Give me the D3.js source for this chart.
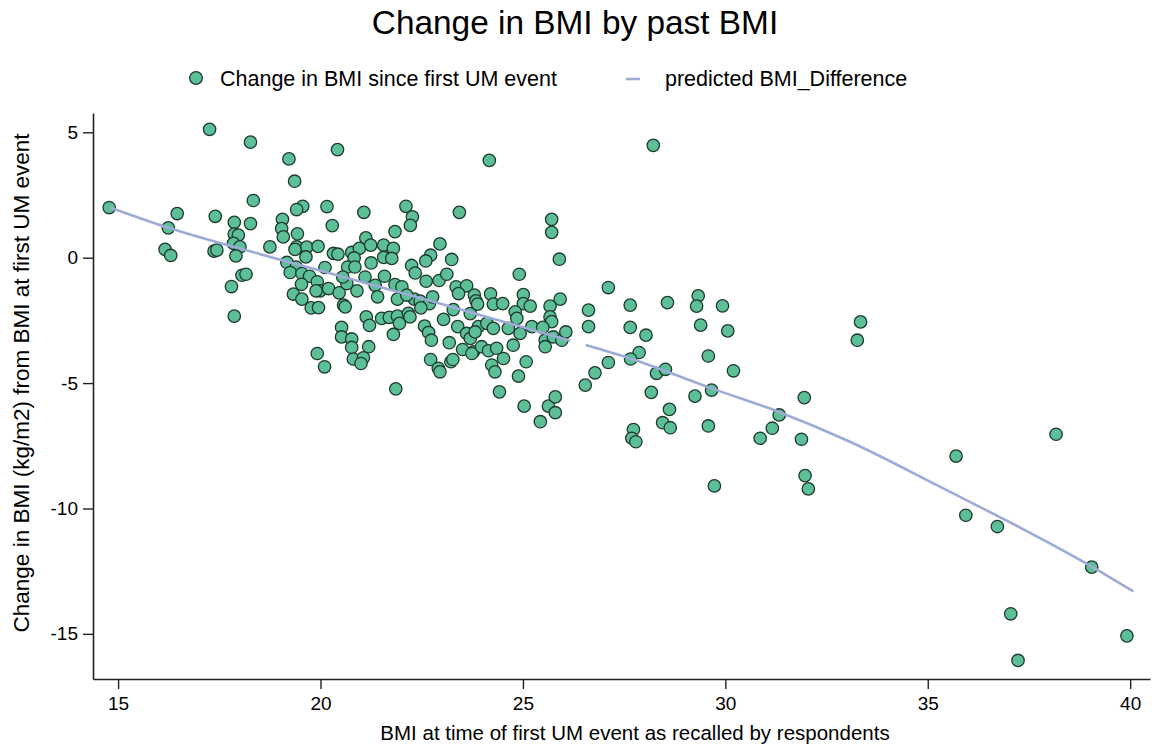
<!DOCTYPE html>
<html>
<head>
<meta charset="utf-8">
<script src="https://cdn.jsdelivr.net/npm/d3@7"></script>
<style>
  html, body { margin: 0; padding: 0; background: #ffffff; }
  svg { display: block; }
  text { font-family: "Liberation Sans", Arial, Helvetica, sans-serif; fill: #000; }
</style>
</head>
<body>
<svg id="chart" width="1153" height="744"></svg>
<script>
// BMI when the first UM event happened, as recalled
const pastBMI = [
  14.78, 16.46, 16.24, 16.16, 16.30, 17.26, 18.27, 18.34, 17.40, 17.87,
  18.27, 17.87, 17.97, 17.85, 18.01, 17.37, 17.44, 17.91, 18.06, 18.16,
  17.80, 17.87, 18.75, 20.42, 19.22, 19.36, 19.56, 19.41, 20.16, 21.07,
  22.11, 22.27, 22.22, 23.43, 19.06, 19.04, 19.08, 20.29, 19.43, 21.84,
  21.12, 22.95, 19.41, 19.66, 19.94, 20.32, 20.43, 20.77, 20.96, 21.24,
  21.56, 21.80, 20.83, 21.56, 21.76, 22.72, 22.60, 23.24, 19.64, 19.17,
  19.40, 20.11, 20.67, 20.85, 21.25, 22.25, 22.34, 19.25, 19.54, 19.73,
  21.10, 21.58, 22.61, 22.93, 23.12, 23.35, 23.61, 23.80, 23.41, 19.53,
  19.92, 19.99, 20.20, 19.89, 20.46, 20.65, 20.90, 21.35, 21.84, 22.01,
  21.90, 22.32, 22.46, 22.69, 22.77, 21.41, 19.33, 19.54, 19.77, 19.95,
  20.57, 20.61, 21.13, 21.21, 21.51, 21.70, 21.90, 21.95, 22.17, 22.21,
  22.48, 22.57, 22.67, 22.74, 23.04, 23.18, 23.39, 23.61, 23.51, 23.78,
  20.52, 20.52, 20.77, 20.77, 21.19, 20.81, 21.06, 21.00, 21.80, 19.92,
  20.10, 21.86, 22.72, 22.91, 22.95, 23.22, 23.27, 23.74, 20.55, 19.37,
  22.13, 25.71, 25.71, 25.90, 24.91, 23.84, 24.20, 24.27, 24.50, 25.01,
  25.01, 25.18, 25.92, 25.67, 26.62, 23.28, 23.70, 23.88, 24.81, 24.85,
  25.67, 25.71, 26.62, 23.70, 23.90, 24.11, 24.27, 23.82, 24.64, 24.93,
  25.22, 25.49, 25.55, 25.55, 25.75, 25.96, 26.06, 24.76, 23.98, 24.15,
  24.35, 24.52, 24.23, 24.31, 25.08, 24.89, 24.42, 25.03, 25.63, 25.80,
  25.80, 25.43, 26.54, 27.11, 27.65, 27.65, 28.04, 28.57, 29.33, 29.29,
  29.93, 29.39, 30.06, 27.87, 27.66, 27.11, 26.78, 28.30, 28.52, 29.58,
  30.20, 29.66, 29.25, 28.17, 28.62, 28.45, 28.64, 27.73, 27.69, 27.79,
  29.58, 31.33, 31.16, 30.86, 29.73, 31.95, 31.88, 31.97, 32.05, 33.34,
  33.26, 35.70, 38.17, 35.94, 36.72, 39.05, 37.05, 37.23, 39.92, 28.22,
  24.17
];

// Change in BMI since the first UM event (kg/m2)
const bmiChange = [
   2.00,  1.76,  1.19,  0.33,  0.09,  5.12,  4.61,  2.28,  1.65,  1.41,
   1.36,  0.94,  0.90,  0.57,  0.43,  0.26,  0.30,  0.07, -0.70, -0.66,
  -1.15, -2.33,  0.43,  4.31,  3.94,  3.05,  2.05,  1.92,  2.04,  1.81,
   2.05,  1.63,  1.29,  1.81,  1.53,  1.16,  0.83,  1.28,  0.95,  1.04,
   0.79,  0.55,  0.43,  0.42,  0.45,  0.17,  0.14,  0.21,  0.37,  0.50,
   0.50,  0.37, -0.01,  0.01, -0.03,  0.10, -0.13, -0.07,  0.03, -0.19,
  -0.37, -0.39, -0.37, -0.37, -0.21, -0.31, -0.61, -0.59, -0.63, -0.74,
  -0.77, -0.74, -0.94, -0.91, -0.66, -1.16, -1.12, -1.49, -1.43, -1.06,
  -0.96, -1.32, -1.23, -1.32, -1.40, -1.03, -1.32, -1.10, -1.07, -1.16,
  -1.65, -1.65, -1.73, -1.83, -1.56, -1.56, -1.45, -1.65, -2.00, -1.99,
  -1.89, -1.96, -2.36, -2.70, -2.42, -2.38, -2.33, -2.62, -2.22, -2.36,
  -2.00, -2.73, -2.98, -3.29, -2.46, -3.39, -2.75, -3.02, -3.66, -3.75,
  -2.78, -3.16, -3.24, -3.58, -3.55, -4.04, -3.99, -4.22, -3.06, -3.82,
  -4.35, -5.23, -4.06, -4.41, -4.55, -4.15, -4.06, -3.82, -0.77,  0.33,
  -1.49,  1.53,  1.01, -0.06, -0.66, -1.72, -1.44, -1.85, -1.83, -1.47,
  -1.83, -1.93, -1.65, -1.93, -2.09, -2.07, -2.23, -1.85, -2.16, -2.42,
  -2.36, -2.55, -2.75, -3.22, -2.75, -2.62, -2.82, -2.96, -2.82, -3.02,
  -2.75, -2.78, -3.29, -3.55, -3.16, -3.29, -2.96, -3.49, -3.55, -3.71,
  -3.61, -4.02, -4.28, -4.55, -4.15, -4.72, -5.35, -5.92, -5.92, -5.55,
  -6.18, -6.54, -5.08, -1.19, -1.89, -2.78, -3.09, -1.79, -1.52, -1.93,
  -1.92, -2.69, -2.92, -3.78, -4.04, -4.18, -4.59, -4.61, -4.45, -3.92,
  -4.51, -5.28, -5.52, -5.37, -6.05, -6.58, -6.78, -6.85, -7.20, -7.34,
  -6.71, -6.27, -6.80, -7.20, -9.10, -5.58, -7.24, -8.69, -9.22, -2.56,
  -3.29, -7.91, -7.04, -10.27, -10.72, -12.34, -14.20, -16.06, -15.08, 4.48,
   3.88
];

// Fitted values of BMI_Difference; null marks where the drawn fit breaks
const fitBMI  = [14.80, 16.24, 18.51, 22.71, 26.17, null, 26.55, 27.65, 29.66, 31.31, 33.08, 35.14, 39.05, 40.08];
const fitDiff = [ 2.00,  1.19,  0.14, -1.72, -3.31, null, -3.48, -4.02, -5.21, -6.14, -7.34, -9.00, -12.32, -13.31];

const xTicks = [15, 20, 25, 30, 35, 40];
const yTicks = [-15, -10, -5, 0, 5];

const titleText = "Change in BMI by past BMI";
const legendLabels = ["Change in BMI since first UM event", "predicted BMI_Difference"];
const xTitle = "BMI at time of first UM event as recalled by respondents";
const yTitle = "Change in BMI (kg/m2) from BMI at first UM event";

const svg = d3.select("#chart");
const plot = { left: 93, right: 1150, top: 113, bottom: 679 };

const x = d3.scaleLinear().domain([14.38, 40.49]).range([plot.left, plot.right]);
const y = d3.scaleLinear().domain([-16.8, 5.77]).range([plot.bottom, plot.top]);

const dotFill = "#5cbf97";
const dotStroke = "#1d3a2f";
const fitColor = "#9dabd6";

// Title
svg.append("text")
  .attr("x", 575).attr("y", 34)
  .attr("text-anchor", "middle")
  .style("font-size", "33.4px")
  .text(titleText);

// Legend
const legend = svg.append("g");
legend.append("circle")
  .attr("cx", 196).attr("cy", 78).attr("r", 6.3)
  .attr("fill", dotFill).attr("stroke", dotStroke).attr("stroke-width", 1.3);
legend.append("text")
  .attr("x", 220).attr("y", 86)
  .style("font-size", "21.5px")
  .text(legendLabels[0]);
legend.append("line")
  .attr("x1", 626).attr("x2", 640).attr("y1", 79).attr("y2", 79)
  .attr("stroke", fitColor).attr("stroke-width", 2.6);
legend.append("text")
  .attr("x", 665).attr("y", 86)
  .style("font-size", "21.5px")
  .text(legendLabels[1]);

// Axes
const xAxis = d3.axisBottom(x).tickValues(xTicks).tickSize(10).tickSizeOuter(0).tickPadding(8);
const yAxis = d3.axisLeft(y).tickValues(yTicks).tickSize(10).tickSizeOuter(0).tickPadding(5)
  .tickFormat(d => d < 0 ? "-" + Math.abs(d) : d);

const gx = svg.append("g").attr("transform", `translate(0,${plot.bottom})`).call(xAxis);
const gy = svg.append("g").attr("transform", `translate(${plot.left},0)`).call(yAxis);

[gx, gy].forEach(g => {
  g.select(".domain").attr("stroke", "#222").attr("stroke-width", 1.6);
  g.selectAll(".tick line").attr("stroke", "#222").attr("stroke-width", 1.4);
  g.selectAll(".tick text")
    .style("font-size", "19px")
    .style("font-family", "'Liberation Sans', Arial, sans-serif")
    .attr("fill", "#000");
});

// Axis titles
svg.append("text")
  .attr("x", 635).attr("y", 740)
  .attr("text-anchor", "middle")
  .style("font-size", "20.5px")
  .text(xTitle);

svg.append("text")
  .attr("transform", "translate(29,383) rotate(-90)")
  .attr("text-anchor", "middle")
  .style("font-size", "22.5px")
  .text(yTitle);

// Scatter points
const points = pastBMI.map((v, i) => ({ x: v, y: bmiChange[i] }));
svg.append("g")
  .selectAll("circle")
  .data(points)
  .join("circle")
  .attr("cx", d => x(d.x))
  .attr("cy", d => y(d.y))
  .attr("r", 6.2)
  .attr("fill", dotFill)
  .attr("stroke", dotStroke)
  .attr("stroke-width", 1.3);

// Fitted curve
const fit = fitBMI.map((v, i) => ({ x: v, y: fitDiff[i] }));
const line = d3.line()
  .defined(d => d.x !== null && d.y !== null)
  .x(d => x(d.x))
  .y(d => y(d.y))
  .curve(d3.curveMonotoneX);

svg.append("path")
  .datum(fit)
  .attr("fill", "none")
  .attr("stroke", fitColor)
  .attr("stroke-width", 2.6)
  .attr("d", line);
</script>
</body>
</html>
